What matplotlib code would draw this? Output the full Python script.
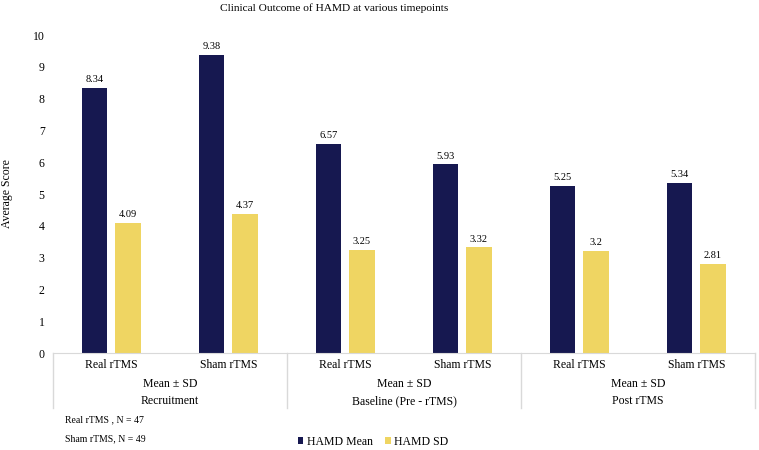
import matplotlib.pyplot as plt
import numpy as np

plt.rcParams['font.family'] = ['Liberation Serif', 'DejaVu Serif']

groups = ['Recruitment', 'Baseline (Pre - rTMS)', 'Post rTMS']
arms = ['Real rTMS', 'Sham rTMS']
hamd_mean = [8.34, 9.38, 6.57, 5.93, 5.25, 5.34]
hamd_sd = [4.09, 4.37, 3.25, 3.32, 3.2, 2.81]

navy = '#161850'
yellow = '#EFD562'
grid_col = '#D9D9D9'

fig = plt.figure(figsize=(7.59, 4.5), dpi=100)
ax = fig.add_axes([53 / 759, 1 - 353 / 450, 702 / 759, 318 / 450])

x = np.arange(len(hamd_mean)) + 0.5
w = 0.22
b1 = ax.bar(x - 0.145, hamd_mean, w, color=navy, label='HAMD Mean')
b2 = ax.bar(x + 0.14, hamd_sd, w, color=yellow, label='HAMD SD')

for bars, vals in [(b1, hamd_mean), (b2, hamd_sd)]:
    for r, v in zip(bars, vals):
        ax.text(r.get_x() + r.get_width() / 2, v + 0.12, f'{v:g}',
                ha='center', va='bottom', fontsize=7.5)

ax.set_xlim(0, 6)
ax.set_ylim(0, 10)
ax.set_yticks(range(0, 11))
ax.tick_params(axis='y', length=0, labelsize=8.5, pad=6)
ax.set_xticks([])
for s in ['top', 'right', 'left']:
    ax.spines[s].set_visible(False)
ax.spines['bottom'].set_color(grid_col)
ax.set_ylabel('Average Score', fontsize=8.5, labelpad=14)

# multi-level category axis
tr = ax.get_xaxis_transform()
for i, xi in enumerate(x):
    ax.text(xi, -0.038, arms[i % 2], transform=tr, ha='center', va='center', fontsize=8.5)
for g, name in enumerate(groups):
    ax.text(2 * g + 1, -0.097, 'Mean ± SD', transform=tr, ha='center', va='center', fontsize=8.5)
    ax.text(2 * g + 1, -0.151, name, transform=tr, ha='center', va='center', fontsize=8.5)
for xd in [0, 2, 4, 6]:
    ax.plot([xd, xd], [0, -0.173], transform=tr, color=grid_col, lw=1, clip_on=False)

fig.text(334 / 759, 1 - 8 / 450, 'Clinical Outcome of HAMD at various timepoints',
         ha='center', va='center', fontsize=8.2)
fig.text(65 / 759, 1 - 420 / 450, 'Real rTMS , N = 47', ha='left', va='center', fontsize=7)
fig.text(65 / 759, 1 - 439 / 450, 'Sham rTMS, N = 49', ha='left', va='center', fontsize=7)

fig.legend(handles=[b1, b2], loc='center', bbox_to_anchor=(373 / 759, 1 - 442 / 450),
           ncol=2, frameon=False, fontsize=8.5, handlelength=0.5, handleheight=0.5,
           handletextpad=0.3, columnspacing=1.0)

fig.savefig('out.png', dpi=100)
